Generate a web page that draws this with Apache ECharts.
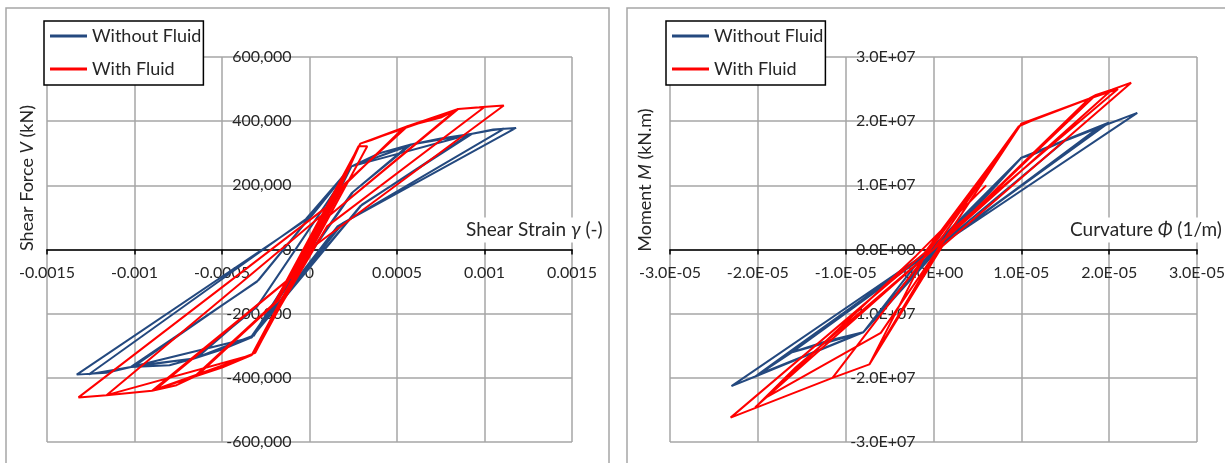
<!DOCTYPE html>
<html>
<head>
<meta charset="utf-8">
<script src="https://cdn.jsdelivr.net/npm/echarts@6/dist/echarts.min.js"></script>
<style>
  html, body { margin: 0; padding: 0; background: #fff; }
  #chart { width: 1225px; height: 463px; }
</style>
</head>
<body>
<div id="chart"></div>
<script>
// shear strain (-) vs shear force (kN)
const shearWithoutFluid = [
  [0, 0], [0.00024, 259000], [0.00004, 45000], [-0.00033, -274000], [-0.00004, -30000],
  [0.00023, 255000], [0.00006, 60000], [-0.00032, -270000], [-0.00005, -40000],
  [0.00024, 259000], [0.00040, 300000], [0.00058, 327000], [0.00025, 180000],
  [-0.00033, -274000], [-0.00050, -312000], [-0.00066, -340000], [-0.00030, -178000],
  [0.00024, 259000], [0.00056, 322000], [0.00024, 175000], [-0.00033, -270000],
  [-0.00064, -336000], [-0.00029, -170000], [0.00024, 259000], [0.00058, 327000],
  [0.00075, 346000], [0.00093, 361000], [0.00030, 140000], [-0.00033, -274000],
  [-0.00066, -340000], [-0.00080, -361000], [-0.00102, -366000], [-0.00030, -100000],
  [0.00024, 259000], [0.00058, 327000], [0.00091, 358000], [0.00029, 135000],
  [-0.00033, -272000], [-0.00066, -340000], [-0.00100, -363000], [-0.00029, -95000],
  [0.00024, 259000], [0.00093, 361000], [0.00104, 372000], [0.00111, 376000],
  [0.00016, 72000], [-0.00033, -274000], [-0.00066, -340000], [-0.00102, -366000],
  [-0.00116, -384000], [-0.00133, -390000], [0.00001, 103000], [0.00024, 259000],
  [0.00093, 361000], [0.00105, 374000], [0.00118, 379000], [0.00019, 82000],
  [-0.00033, -274000], [-0.00102, -366000], [-0.00126, -389000], [-0.00002, 95000],
  [0.00024, 259000], [0.00060, 330000]
];
const shearWithFluid = [
  [0, 0], [0.00029, 330000], [0.00002, 15000], [-0.00033, -329000], [-0.00002, -12000],
  [0.00028, 322000], [0.00033, 322000], [0.00004, 30000], [-0.00031, -320000], [0.00001, 0],
  [0.00029, 330000], [0.00035, 340000], [0.00056, 384000], [0.00020, 204000],
  [-0.00033, -329000], [-0.00050, -368000], [-0.00066, -397000], [-0.00020, -167000],
  [0.00029, 330000], [0.00054, 380000], [0.00018, 190000], [-0.00031, -322000],
  [-0.00064, -392000], [-0.00018, -160000], [0.00029, 330000],
  [0.00056, 384000], [0.00075, 411000], [0.00085, 438000],
  [0.00010, 100000], [-0.00033, -329000], [-0.00066, -397000], [-0.00076, -423000],
  [-0.00090, -440000], [-0.00010, -84000], [0.00029, 330000], [0.00083, 432000],
  [0.00009, 95000], [-0.00033, -329000], [-0.00088, -436000], [-0.00009, -80000],
  [0.00029, 330000], [0.00056, 384000],
  [0.00085, 438000], [0.00097, 443000], [0.00111, 449000], [0.00000, 0],
  [-0.00033, -329000], [-0.00066, -397000], [-0.00090, -440000], [-0.00116, -454000],
  [-0.00132, -461000], [0.00014, 150000], [0.00029, 330000], [0.00056, 384000],
  [0.00085, 438000], [0.00100, 444000], [0.00010, 72000], [-0.00033, -329000],
  [-0.00116, -454000], [0.00010, 120000]
];
// curvature (1/m) vs moment (kN.m)
const momentWithoutFluid = [
  [0, 0], [1.0e-5, 1.43e7], [0.15e-5, 0.15e7], [-0.8e-5, -1.29e7], [-0.15e-5, -0.15e7],
  [1.0e-5, 1.43e7], [1.13e-5, 1.48e7], [1.50e-5, 1.70e7], [0.1e-5, 0.1e7],
  [-0.8e-5, -1.29e7], [-1.2e-5, -1.42e7], [-1.61e-5, -1.60e7], [-0.1e-5, -0.1e7],
  [1.0e-5, 1.43e7], [1.5e-5, 1.70e7], [1.92e-5, 1.92e7], [0.05e-5, 0.05e7],
  [-0.8e-5, -1.29e7], [-1.61e-5, -1.60e7], [-2.03e-5, -1.98e7], [-0.05e-5, -0.05e7],
  [1.0e-5, 1.43e7], [1.88e-5, 1.90e7], [0.08e-5, 0.06e7], [-0.8e-5, -1.29e7],
  [-2.0e-5, -1.95e7], [-0.08e-5, -0.06e7], [1.0e-5, 1.43e7],
  [1.92e-5, 1.92e7], [2.32e-5, 2.13e7], [0, 0],
  [-0.8e-5, -1.29e7], [-2.03e-5, -1.98e7], [-2.30e-5, -2.13e7], [0, 0.02e7],
  [1.0e-5, 1.43e7], [2.0e-5, 1.98e7], [0.1e-5, 0.1e7]
];
const momentWithFluid = [
  [0, 0], [1.0e-5, 1.96e7], [0.1e-5, 0.1e7], [-0.73e-5, -1.79e7], [-0.1e-5, -0.1e7],
  [0.97e-5, 1.92e7], [1.12e-5, 2.01e7], [1.77e-5, 2.35e7], [0.1e-5, 0.12e7],
  [-0.73e-5, -1.79e7], [-1.15e-5, -2.0e7], [-0.1e-5, -0.12e7], [1.0e-5, 1.96e7],
  [1.77e-5, 2.35e7], [1.85e-5, 2.41e7], [2.03e-5, 2.49e7], [0, 0],
  [-1.57e-5, -1.84e7], [-2.03e-5, -2.46e7], [0, 0], [1.85e-5, 2.41e7],
  [2.03e-5, 2.49e7], [2.25e-5, 2.60e7], [0.1e-5, 0.05e7], [-0.73e-5, -1.79e7],
  [-1.15e-5, -2.0e7], [-2.31e-5, -2.62e7], [-0.1e-5, -0.05e7], [1.0e-5, 1.96e7],
  [1.12e-5, 2.01e7], [1.77e-5, 2.35e7], [2.1e-5, 2.5e7], [0.2e-5, 0.3e7],
  [-0.6e-5, -1.3e7], [-1.9e-5, -2.3e7], [-0.2e-5, -0.1e7], [0.6e-5, 1.0e7]
];

const seriesNames = ['Without Fluid', 'With Fluid'];
const seriesColors = ['#24497f', '#ff0000'];

const FONT = 'Lato, "Noto Sans", sans-serif';
const TXT = '#262626';
const GRID = '#a6a6a6';

const PLOT_H = 385;
const PLOT_W = [525, 527];

function sci(v) {
  if (Math.abs(v) < 1e-15) return '0.0E+00';
  const parts = v.toExponential(1).split('e');
  const e = parseInt(parts[1], 10);
  const n = Math.abs(e);
  return parts[0] + 'E' + (e < 0 ? '-' : '+') + (n < 10 ? '0' : '') + n;
}

// axes cross at zero: move them with a negative offset (zero sits mid-plot)
function xAxisOf(idx, min, max, step, fmt) {
  return {
    type: 'value', gridIndex: idx, min: min, max: max, interval: step,
    position: 'bottom', offset: -PLOT_H / 2,
    axisLine: { show: true, onZero: false, lineStyle: { color: '#000', width: 1.5 } },
    axisTick: { show: true, length: 5, lineStyle: { color: '#000', width: 1.5 } },
    axisLabel: { formatter: fmt, color: TXT, fontFamily: FONT, fontSize: 16, margin: 15 },
    splitLine: { show: true, lineStyle: { color: GRID, width: 1.5 } }
  };
}
function yAxisOf(idx, min, max, step, fmt) {
  return {
    type: 'value', gridIndex: idx, min: min, max: max, interval: step,
    position: 'left', offset: -PLOT_W[idx] / 2,
    axisLine: { show: false, onZero: false },
    axisTick: { show: false },
    axisLabel: { formatter: fmt, color: TXT, fontFamily: FONT, fontSize: 16, margin: 18 },
    splitLine: { show: true, lineStyle: { color: GRID, width: 1.5 } }
  };
}
function legendAt(left) {
  return {
    left: left, top: 21, orient: 'vertical', data: seriesNames, selectedMode: false,
    icon: 'rect', itemWidth: 37, itemHeight: 3, itemGap: 13,
    padding: [5, 2, 6, 6], borderColor: '#000', borderWidth: 1.5, backgroundColor: '#fff',
    textStyle: { fontFamily: FONT, fontSize: 18, color: TXT, lineHeight: 20 }
  };
}
function lineSeries(name, color, data, idx) {
  return {
    name: name, type: 'line', data: data, xAxisIndex: idx, yAxisIndex: idx,
    color: color, showSymbol: false, symbol: 'none',
    lineStyle: { color: color, width: 2 }
  };
}
function axisTitle(x, y, text, rotated, bg) {
  const size = rotated ? 18 : 19;
  const el = {
    type: 'text', x: x, y: y, z: 10,
    style: {
      text: text, fill: TXT, fontFamily: FONT, fontSize: size,
      align: rotated ? 'center' : 'left', verticalAlign: 'middle',
      rich: {
        a: { fontFamily: FONT, fontSize: size, fill: TXT, color: TXT },
        i: { fontFamily: FONT, fontSize: size, fill: TXT, color: TXT, fontStyle: 'italic' }
      }
    }
  };
  if (rotated) el.rotation = Math.PI / 2;
  if (bg) { el.style.backgroundColor = '#fff'; el.style.padding = [3, 2]; }
  return el;
}

const chart = echarts.init(document.getElementById('chart'), null, { renderer: 'canvas' });
chart.setOption({
  animation: false,
  backgroundColor: '#fff',
  grid: [
    { left: 47, top: 57, width: PLOT_W[0], height: PLOT_H, outerBoundsMode: 'none' },
    { left: 670, top: 57, width: PLOT_W[1], height: PLOT_H, outerBoundsMode: 'none' }
  ],
  xAxis: [
    xAxisOf(0, -0.0015, 0.0015, 0.0005, v => String(Number(v.toFixed(4)))),
    xAxisOf(1, -3e-5, 3e-5, 1e-5, sci)
  ],
  yAxis: [
    yAxisOf(0, -600000, 600000, 200000, v => Math.round(v).toLocaleString('en-US')),
    yAxisOf(1, -3e7, 3e7, 1e7, sci)
  ],
  legend: [legendAt(44), legendAt(666)],
  graphic: [
    { type: 'rect', z: -1, shape: { x: 6, y: 8, width: 603, height: 470 },
      style: { fill: 'none', stroke: GRID, lineWidth: 1.5 } },
    { type: 'rect', z: -1, shape: { x: 627, y: 8, width: 620, height: 470 },
      style: { fill: 'none', stroke: GRID, lineWidth: 1.5 } },
    axisTitle(27, 178, '{a|Shear Force }{i|V}{a| (kN)}', true, false),
    axisTitle(645, 180, '{a|Moment }{i|M}{a| (kN.m)}', true, false),
    axisTitle(464, 230, '{a|Shear Strain }{i|γ}{a| (-)}', false, true),
    axisTitle(1068, 230, '{a|Curvature }{i|Φ}{a| (1/m)}', false, true)
  ],
  series: [
    lineSeries(seriesNames[0], seriesColors[0], shearWithoutFluid, 0),
    lineSeries(seriesNames[1], seriesColors[1], shearWithFluid, 0),
    lineSeries(seriesNames[0], seriesColors[0], momentWithoutFluid, 1),
    lineSeries(seriesNames[1], seriesColors[1], momentWithFluid, 1)
  ]
});
</script>
</body>
</html>
